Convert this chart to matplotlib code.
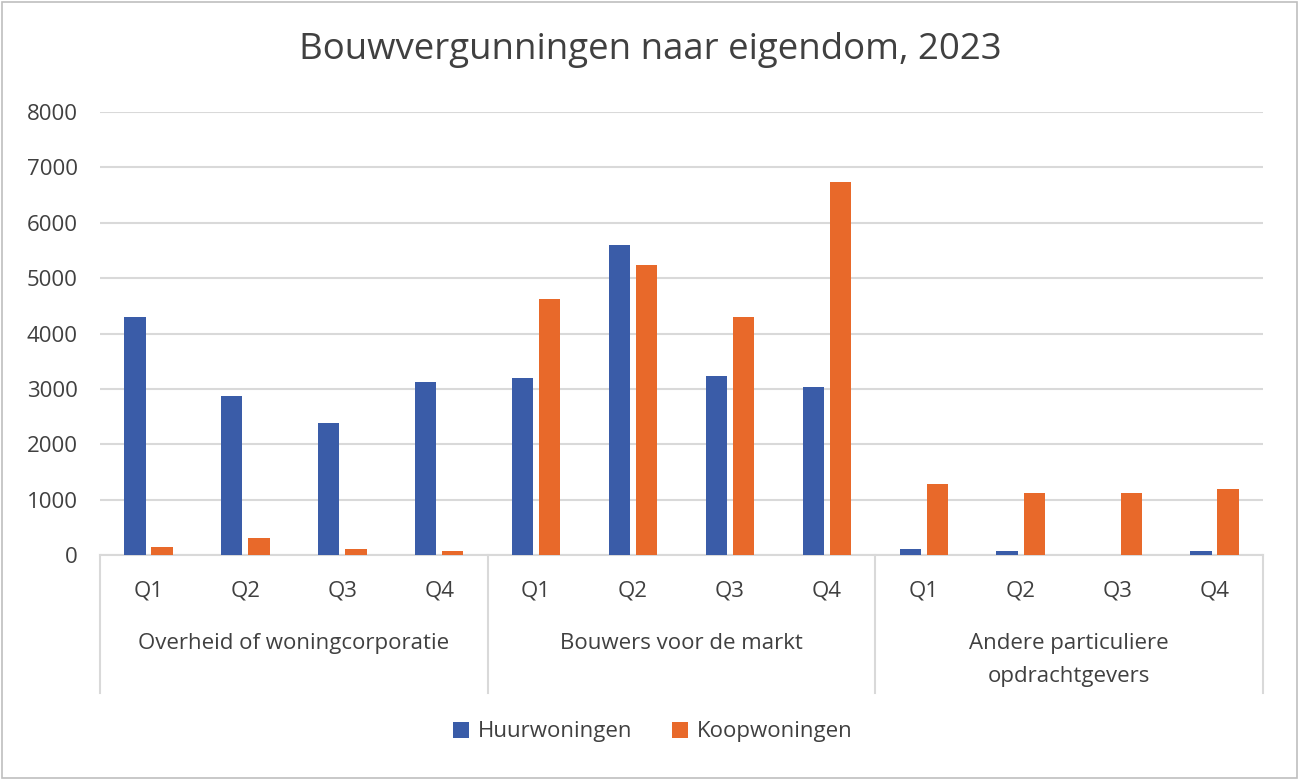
import numpy as np
import matplotlib.pyplot as plt
from matplotlib.patches import Rectangle
from matplotlib.transforms import blended_transform_factory

plt.rcParams['font.family'] = ['Open Sans', 'DejaVu Sans']

title = "Bouwvergunningen naar eigendom, 2023"
groups = ["Overheid of woningcorporatie", "Bouwers voor de markt",
          "Andere particuliere\nopdrachtgevers"]
quarters = ["Q1", "Q2", "Q3", "Q4"]
series_names = ["Huurwoningen", "Koopwoningen"]
huur = [4300, 2870, 2380, 3120,
        3200, 5600, 3230, 3030,
        100, 65, 0, 65]
koop = [140, 300, 100, 70,
        4620, 5240, 4300, 6740,
        1280, 1120, 1120, 1200]
y_ticks = [0, 1000, 2000, 3000, 4000, 5000, 6000, 7000, 8000]

blue = "#3A5CA8"
orange = "#E8692A"
grid_c = "#D9D9D9"
text_c = "#404040"
fs = 16

W, H = 1299, 780
fig = plt.figure(figsize=(W / 100, H / 100), dpi=100)
fig.patches.append(Rectangle((2 / W, 2 / H), 1 - 4 / W, 1 - 4 / H,
                             transform=fig.transFigure, fill=False,
                             edgecolor="#BFBFBF", linewidth=1.2))

ax = fig.add_axes([100 / W, 1 - 555 / H, 1163 / W, 443 / H])

n = len(huur)
x = np.arange(n) + 0.5
bw = 0.22
ax.bar(x - 0.14, huur, width=bw, color=blue, label=series_names[0], zorder=3)
ax.bar(x + 0.14, koop, width=bw, color=orange, label=series_names[1], zorder=3)

ax.set_xlim(0, n)
ax.set_ylim(0, 8000)
ax.set_yticks(y_ticks)
ax.set_yticklabels([str(v) for v in y_ticks])
ax.yaxis.grid(True, color=grid_c, linewidth=1.5)
ax.set_axisbelow(True)
for s in ["top", "right", "left"]:
    ax.spines[s].set_visible(False)
ax.spines["bottom"].set_color(grid_c)
ax.spines["bottom"].set_linewidth(1.5)
ax.tick_params(axis="y", length=0, pad=16, labelsize=fs, labelcolor=text_c)

ax.set_xticks(x)
ax.set_xticklabels(quarters * len(groups))
ax.tick_params(axis="x", length=0, pad=18, labelsize=fs, labelcolor=text_c)

trans = blended_transform_factory(ax.transData, ax.transAxes)
depth = -(693 - 555) / 443
for k in range(len(groups) + 1):
    ax.plot([4 * k, 4 * k], [0, depth], transform=trans, color=grid_c,
            linewidth=1.5, clip_on=False)
for k, g in enumerate(groups):
    ax.text(4 * k + 2, -(633 - 555) / 443, g, transform=trans, ha="center",
            va="top", fontsize=fs, color=text_c, linespacing=1.75)

fig.text(650 / W, 1 - 50 / H, title, ha="center", va="center",
         fontsize=26.4, color=text_c)

fig.legend(loc="center", bbox_to_anchor=(653 / W, 1 - 732 / H), ncol=2,
           frameon=False, fontsize=fs, handlelength=0.7, handleheight=0.7,
           handletextpad=0.4, columnspacing=1.8, labelcolor=text_c)

fig.savefig("out.png", dpi=100)
